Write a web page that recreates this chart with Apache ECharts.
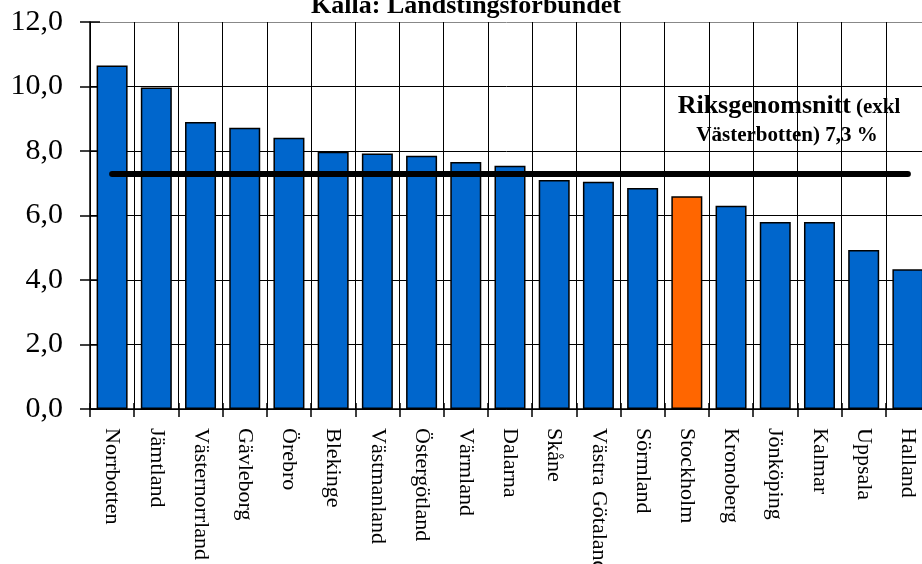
<!DOCTYPE html>
<html>
<head>
<meta charset="utf-8">
<script src="https://cdn.jsdelivr.net/npm/echarts@6/dist/echarts.min.js"></script>
<style>
  html, body { margin: 0; padding: 0; background: #fff; }
  #chart { width: 922px; height: 564px; }
</style>
</head>
<body>
<div id="chart"></div>
<script>
// counties, sorted by value
const counties = [
  "Norrbotten", "Jämtland", "Västernorrland", "Gävleborg", "Örebro",
  "Blekinge", "Västmanland", "Östergötland", "Värmland", "Dalarna",
  "Skåne", "Västra Götaland", "Sörmland", "Stockholm", "Kronoberg",
  "Jönköping", "Kalmar", "Uppsala", "Halland"
];
const values = [
  10.65, 9.97, 8.90, 8.72, 8.41,
  7.98, 7.92, 7.85, 7.66, 7.54,
  7.10, 7.05, 6.85, 6.60, 6.30,
  5.80, 5.80, 4.93, 4.33
];
const highlight = "Stockholm";
const nationalAvg = 7.3;
const yTicks = [0, 2, 4, 6, 8, 10, 12];

const serif = "Liberation Serif";
const chart = echarts.init(document.getElementById("chart"));

const barData = counties.map((c, i) => ({
  value: values[i],
  itemStyle: { color: c === highlight ? "#FF6600" : "#0066CC" }
}));

chart.setOption({
  animation: false,
  grid: { left: 90, right: -8, top: 22, bottom: 155, outerBoundsMode: "none", containLabel: false },
  xAxis: [
    {
      type: "category",
      data: counties,
      position: "bottom",
      axisLine: { lineStyle: { color: "#000", width: 1.5 } },
      axisTick: { show: true, length: 8, interval: 0, lineStyle: { color: "#000", width: 1.5 } },
      axisLabel: {
        interval: 0, rotate: -90, margin: 19,
        fontFamily: serif, fontSize: 22, color: "#000"
      },
      splitLine: { show: true, interval: 0, lineStyle: { color: "#000", width: 1 } }
    },
    {
      type: "category",
      data: counties,
      position: "bottom",
      axisLine: { show: false },
      axisTick: { show: true, inside: true, length: 6, interval: 0, lineStyle: { color: "#000", width: 1.5 } },
      axisLabel: { show: false },
      splitLine: { show: false }
    }
  ],
  yAxis: [
    {
      type: "value",
      min: yTicks[0], max: yTicks[yTicks.length - 1], interval: 2,
      axisLine: { show: true, lineStyle: { color: "#000", width: 1.5 } },
      axisTick: { show: true, length: 10, lineStyle: { color: "#000", width: 1.5 } },
      axisLabel: {
        margin: 27, fontFamily: serif, fontSize: 30, color: "#000",
        formatter: v => v.toFixed(1).replace(".", ",")
      },
      splitLine: {
        show: true,
        lineStyle: { color: ["#000", "#000", "#000", "#000", "#000", "#000", "#888"], width: 1 }
      }
    },
    {
      type: "value",
      min: yTicks[0], max: yTicks[yTicks.length - 1], interval: 2,
      position: "left",
      axisLine: { show: false },
      axisTick: { show: true, inside: true, length: 10, lineStyle: { color: "#000", width: 1.5 } },
      axisLabel: { show: false },
      splitLine: { show: false }
    }
  ],
  series: [
    {
      type: "bar",
      data: barData,
      barWidth: 31,
      itemStyle: { borderColor: "#000", borderWidth: 1.5 },
      markLine: {
        silent: true,
        symbol: ["none", "none"],
        label: { show: false },
        lineStyle: { color: "#000", width: 6, type: "solid", cap: "round" },
        data: [[
          { coord: [counties[0], nationalAvg] },
          { coord: [counties[counties.length - 1], nationalAvg] }
        ]]
      }
    }
  ],
  graphic: [
    {
      type: "text", x: 466, y: 19, z: 10,
      style: {
        text: "Källa: Landstingsförbundet",
        font: "bold 26px " + serif, fill: "#000",
        textAlign: "center", textVerticalAlign: "bottom"
      }
    },
    {
      type: "text", x: 851, y: 106, z: 10,
      style: {
        text: "Riksgenomsnitt",
        font: "bold 26px " + serif, fill: "#000",
        textAlign: "right", textVerticalAlign: "middle"
      }
    },
    {
      type: "text", x: 856, y: 108, z: 10,
      style: {
        text: "(exkl",
        font: "bold 21px " + serif, fill: "#000",
        textAlign: "left", textVerticalAlign: "middle"
      }
    },
    {
      type: "text", x: 787, y: 136, z: 10,
      style: {
        text: "Västerbotten) 7,3 %",
        font: "bold 21px " + serif, fill: "#000",
        textAlign: "center", textVerticalAlign: "middle"
      }
    }
  ]
});
</script>
</body>
</html>
